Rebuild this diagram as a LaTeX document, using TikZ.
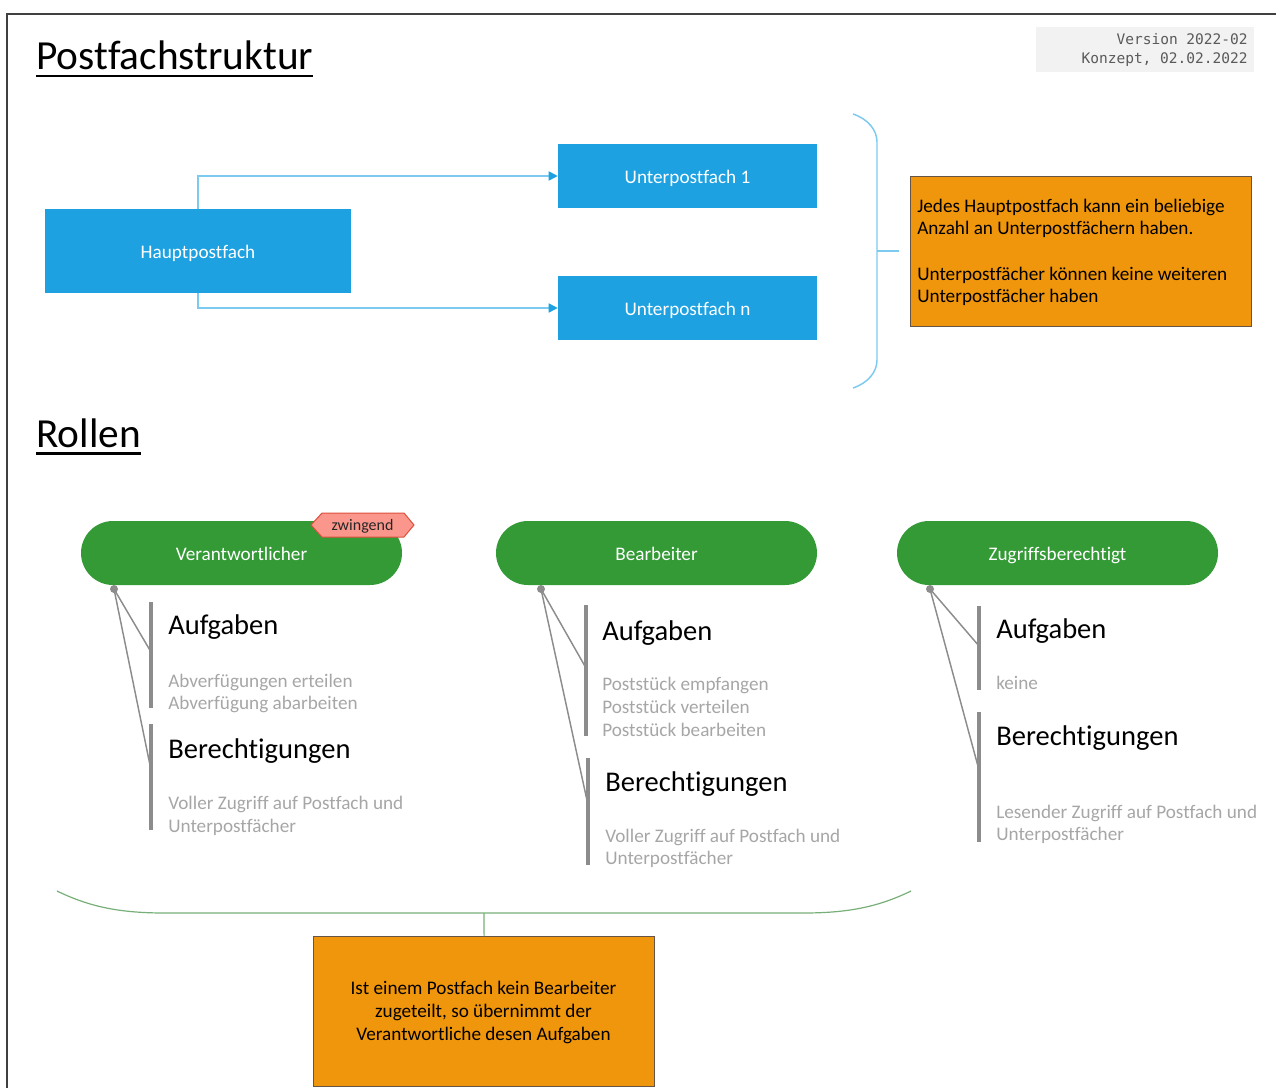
\documentclass[tikz,border=0pt]{standalone}
\usepackage{fontspec}
\setmainfont{Carlito}[Ligatures=NoCommon]
\newfontfamily\monof{DejaVu Sans Mono}
\usetikzlibrary{arrows.meta,calc}
\definecolor{cblue}{RGB}{29,161,225}
\definecolor{clblue}{RGB}{125,202,240}
\definecolor{corange}{RGB}{240,150,12}
\definecolor{cob}{RGB}{100,85,70}
\definecolor{cgreen}{RGB}{51,154,53}
\definecolor{ctagf}{RGB}{250,150,140}
\definecolor{ctagd}{RGB}{220,80,60}
\definecolor{cbar}{RGB}{140,140,140}
\definecolor{cgtext}{RGB}{166,166,166}
\definecolor{cbrace}{RGB}{120,175,120}
\definecolor{cver}{RGB}{242,242,242}
\definecolor{cvert}{RGB}{90,90,90}
\definecolor{cframe}{RGB}{64,64,64}
\begin{document}
\begin{tikzpicture}[x=0.75pt,y=-0.75pt,
  bodyfont/.style={font=\fontsize{14.4}{17}\selectfont},
  bbox/.style={bodyfont,fill=cblue,draw=none,text=white,inner sep=0,text height=13.5pt,text depth=3pt},
  conn/.style={draw=clblue,line width=1.1pt,-{Triangle[length=6.75pt,width=6.75pt,fill=cblue,color=cblue]}},
  bracel/.style={draw=clblue,line width=1.1pt},
  obox/.style={fill=corange,draw=cob,line width=0.9pt,inner sep=0,anchor=north west},
  otext/.style={bodyfont,inner sep=0,text=black},
  pill/.style={bodyfont,fill=cgreen,draw=none,text=white,minimum height=48pt,minimum width=240.75pt,rounded corners=24pt,inner sep=0,text height=13.5pt,text depth=3pt},
  dot/.style={circle,fill=cbar,draw=none,minimum size=6pt,inner sep=0},
  leader/.style={draw=cbar,line width=1.1pt},
  bar/.style={draw=cbar,line width=2.6pt},
  head/.style={font=\fontsize{21.4}{26}\selectfont,inner sep=0,anchor=base west,text=black},
  gtext/.style={bodyfont,inner sep=0,anchor=base west,text=cgtext},
  title/.style={font=\fontsize{31}{37}\selectfont,inner sep=0,anchor=base west},
  uline/.style={line width=1.9pt},
  vtext/.style={font=\monof\fontsize{10.9}{13}\selectfont,text=cvert,inner sep=0,anchor=base east},
  gbrace/.style={draw=cbrace,line width=0.9pt}
]
\useasboundingbox (0,0) rectangle (1276,1088);
% frame
\draw[cframe,line width=1.5pt] (7,1088) -- (7,14) -- (1276,14);

% titles
\node[title] (t1) at (36,69.5) {Postfachstruktur};
\draw[uline] ($(t1.base west)+(0,6.5)$) -- ($(t1.base east)+(0,6.5)$);
\node[title] (t2) at (36,447) {Rollen};
\draw[uline] ($(t2.base west)+(0,6.5)$) -- ($(t2.base east)+(0,6.5)$);

% version
\node[fill=cver,draw=none,anchor=north west,minimum width=163.5pt,minimum height=33.75pt,inner sep=0] (ver) at (1036,27) {};
\node[vtext] (ver1) at (1248,45) {Version 2022-02};
\node[vtext] (ver2) at (1248,64) {Konzept, 02.02.2022};

% structure
\node[bbox,minimum width=229.5pt,minimum height=63pt] (haupt) at (198,251) {Hauptpostfach};
\node[bbox,minimum width=194.25pt,minimum height=48pt] (u1) at (687.5,176) {Unterpostfach 1};
\node[bbox,minimum width=194.25pt,minimum height=48pt] (un) at (687.5,308) {Unterpostfach n};
\draw[conn] (haupt.north) |- (u1.west);
\draw[conn] (haupt.south) |- (un.west);

% brace right
\coordinate (br1) at (853,114);
\coordinate (br2) at (853,388);
\coordinate (brm) at (877,251);
\draw[bracel] (br1) .. controls (868,119) and (877,130) .. (877,142) -- (877,360) .. controls (877,372) and (868,383) .. (br2);
\draw[bracel] (brm) -- (899,251);

% note 1
\node[obox,minimum width=255.75pt,minimum height=112.5pt] (note1) at (910,176) {};
\node[otext,anchor=base west] (n1a) at (917,212) {Jedes Hauptpostfach kann ein beliebige};
\node[otext,anchor=base west] (n1b) at (917,234.5) {Anzahl an Unterpostfächern haben.};
\node[otext,anchor=base west] (n1c) at (917,280) {Unterpostfächer können keine weiteren};
\node[otext,anchor=base west] (n1d) at (917,302.5) {Unterpostfächer haben};

% roles
\node[pill] (p1) at (241.5,553) {Verantwortlicher};
\node[pill] (p2) at (656.5,553) {Bearbeiter};
\node[pill] (p3) at (1057.5,553) {Zugriffsberechtigt};

% tag
\draw[fill=ctagf,draw=ctagd,line width=0.75pt] (311,525) -- (322,513) -- (404,513) -- (414,525) -- (404,537) -- (322,537) -- cycle;
\node[font=\fontsize{12}{14}\selectfont,inner sep=0,text=black!85,text height=10pt,text depth=2.5pt] (tag) at (362.5,525) {zwingend};

% column 1
\coordinate (c1at) at (151,602); \coordinate (c1ab) at (151,708);
\coordinate (c1bt) at (151,724); \coordinate (c1bb) at (151,830);
\coordinate (c1am) at (151,652); \coordinate (c1bm) at (151,770);
\draw[bar] (c1at) -- (c1ab);
\draw[bar] (c1bt) -- (c1bb);
\node[dot] (d1) at (114,589) {};
\draw[leader] (d1.center) -- (c1am);
\draw[leader] (d1.center) -- (c1bm);
\node[head] (h1a) at (168,634) {Aufgaben};
\node[gtext] (g1a) at (168,687) {Abverfügungen erteilen};
\node[gtext] (g1b) at (168,709.5) {Abverfügung abarbeiten};
\node[head] (h1b) at (168,758) {Berechtigungen};
\node[gtext] (g1c) at (168,809.5) {Voller Zugriff auf Postfach und};
\node[gtext] (g1d) at (168,832) {Unterpostfächer};

% column 2
\coordinate (c2at) at (586,605); \coordinate (c2ab) at (586,736);
\coordinate (c2bt) at (588,758); \coordinate (c2bb) at (588,865);
\coordinate (c2am) at (586,668); \coordinate (c2bm) at (588,805);
\draw[bar] (c2at) -- (c2ab);
\draw[bar] (c2bt) -- (c2bb);
\node[dot] (d2) at (541,589) {};
\draw[leader] (d2.center) -- (c2am);
\draw[leader] (d2.center) -- (c2bm);
\node[head] (h2a) at (602,640) {Aufgaben};
\node[gtext] (g2a) at (602,690) {Poststück empfangen};
\node[gtext] (g2b) at (602,713) {Poststück verteilen};
\node[gtext] (g2c) at (602,736) {Poststück bearbeiten};
\node[head] (h2b) at (605,791) {Berechtigungen};
\node[gtext] (g2d) at (605,842) {Voller Zugriff auf Postfach und};
\node[gtext] (g2e) at (605,864.5) {Unterpostfächer};

% column 3
\coordinate (c3at) at (979,606); \coordinate (c3ab) at (979,690);
\coordinate (c3bt) at (979,712); \coordinate (c3bb) at (979,842);
\coordinate (c3am) at (979,646); \coordinate (c3bm) at (979,770);
\draw[bar] (c3at) -- (c3ab);
\draw[bar] (c3bt) -- (c3bb);
\node[dot] (d3) at (930,589) {};
\draw[leader] (d3.center) -- (c3am);
\draw[leader] (d3.center) -- (c3bm);
\node[head] (h3a) at (996,638) {Aufgaben};
\node[gtext] (g3a) at (996,689) {keine};
\node[head] (h3b) at (996,745) {Berechtigungen};
\node[gtext] (g3b) at (996,818) {Lesender Zugriff auf Postfach und};
\node[gtext] (g3c) at (996,840.5) {Unterpostfächer};

% bottom brace
\coordinate (gb1) at (57,891);
\coordinate (gb2) at (911,891);
\coordinate (gbm) at (484,913);
\draw[gbrace] (gb1) .. controls (90,907) and (120,913) .. (165,913) -- (803,913) .. controls (848,913) and (878,907) .. (gb2);
\node[obox,minimum width=255.75pt,minimum height=112.5pt] (note2) at (313,936) {};
\draw[gbrace] (gbm) -- (note2.north);
\node[otext,anchor=base] (n2a) at (483.5,994) {Ist einem Postfach kein Bearbeiter};
\node[otext,anchor=base] (n2b) at (483.5,1017) {zugeteilt, so übernimmt der};
\node[otext,anchor=base] (n2c) at (483.5,1040) {Verantwortliche desen Aufgaben};
\end{tikzpicture}
\end{document}
